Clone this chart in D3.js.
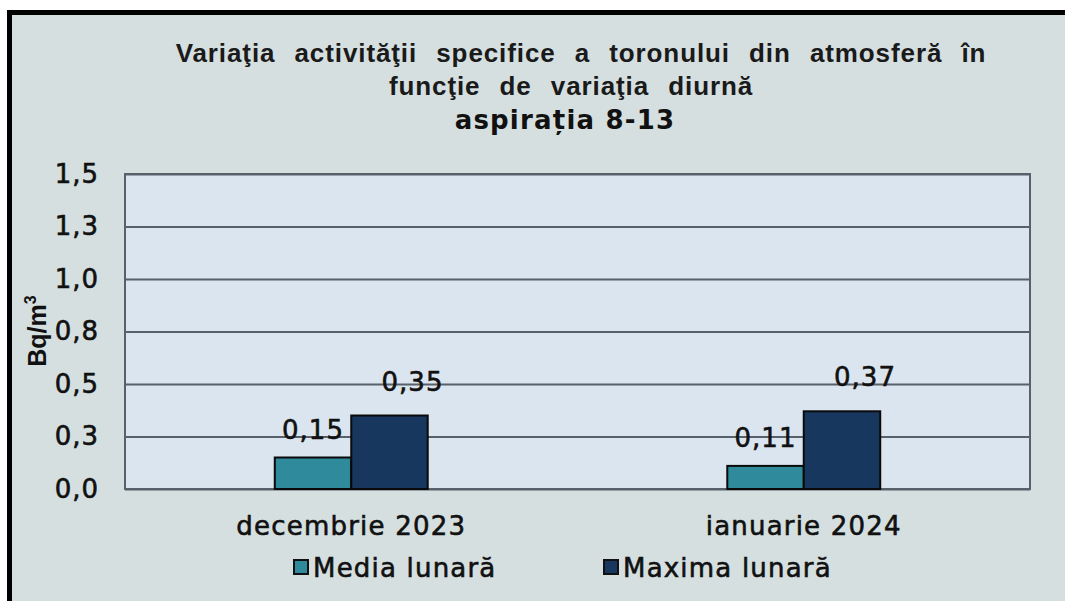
<!DOCTYPE html>
<html>
<head>
<meta charset="utf-8">
<script src="https://cdn.jsdelivr.net/npm/d3@7"></script>
<style>
body { margin:0; background:#fff; }
text { font-family:"DejaVu Sans", sans-serif; fill:#111; }
.fat { stroke:#111; stroke-width:0.6px; }
</style>
</head>
<body>
<div id="chart"></div>
<script>
// data
var categories = ["decembrie 2023", "ianuarie 2024"];
var seriesNames = ["Media lunară", "Maxima lunară"];
var mediaValues = [0.15, 0.11];
var maximaValues = [0.35, 0.37];
var yTicks = [0, 0.25, 0.5, 0.75, 1, 1.25, 1.5];
var titleLines = ["Variaţia activităţii specifice a toronului  din atmosferă în", "funcţie de variaţia diurnă", "aspirația 8-13"];

var W = 1065, H = 601;
var margin = {left:125, top:174, right:35, bottom:112};
var w = W - margin.left - margin.right, h = H - margin.top - margin.bottom;

var ro = d3.formatLocale({decimal:",", thousands:".", grouping:[3], currency:["", ""]});
var fmtTick = ro.format(".1f"), fmtVal = ro.format(".2f");

var svg = d3.select("#chart").append("svg").attr("width", W).attr("height", H);

//---------------------background / frame---------------------
svg.append("rect").attr("x", 7).attr("y", 10).attr("width", W - 7).attr("height", H - 10).attr("fill", "#d5dfe0");
svg.append("rect").attr("x", 7).attr("y", 10).attr("width", W - 7).attr("height", 5).attr("fill", "#000");
svg.append("rect").attr("x", 7).attr("y", 10).attr("width", 5).attr("height", H - 10).attr("fill", "#000");

//---------------------title---------------------
svg.append("text").attr("x", 581).attr("y", 62).attr("text-anchor", "middle")
	.style("font-family", "'Liberation Sans', Arial, sans-serif").style("font-weight", "bold")
	.style("font-size", "26px").style("letter-spacing", "0.9px").style("word-spacing", "11px").style("fill", "#1a1a1a")
	.text(titleLines[0]);
svg.append("text").attr("x", 571).attr("y", 95).attr("text-anchor", "middle")
	.style("font-family", "'Liberation Sans', Arial, sans-serif").style("font-weight", "bold")
	.style("font-size", "26px").style("letter-spacing", "0.9px").style("word-spacing", "11px").style("fill", "#1a1a1a")
	.text(titleLines[1]);
svg.append("text").attr("x", 565).attr("y", 129).attr("text-anchor", "middle")
	.style("font-weight", "bold").style("font-size", "26px").style("letter-spacing", "1.2px")
	.text(titleLines[2]);

var g = svg.append("g").attr("transform", "translate(" + margin.left + "," + margin.top + ")");

var y = d3.scaleLinear().domain([0, 1.5]).range([h, 0]);
var x0 = d3.scaleBand().domain(categories).range([0, w]).paddingInner(0.662).paddingOuter(0.331);
var x1 = d3.scaleBand().domain(seriesNames).range([0, x0.bandwidth()]);
var colors = d3.scaleOrdinal().domain(seriesNames).range(["#2f8a9b", "#17375e"]);

g.append("rect").attr("width", w).attr("height", h).attr("fill", "#dbe5ef");

//---------------------y axis + grid---------------------
var yAxis = g.append("g").call(d3.axisLeft(y).tickValues(yTicks).tickSize(-w).tickPadding(26).tickFormat(fmtTick));
yAxis.select(".domain").remove();
yAxis.selectAll(".tick line").attr("stroke", "#58606a").attr("stroke-width", 2);
yAxis.selectAll(".tick text").attr("class", "fat").style("font-size", "26px").style("letter-spacing", "1px").style("fill", "#111");

g.append("rect").attr("width", w).attr("height", h).attr("fill", "none").attr("stroke", "#58606a").attr("stroke-width", 2);

svg.append("text").attr("transform", "translate(46,331) rotate(-90)").attr("text-anchor", "middle")
	.style("font-family", "'Liberation Sans', Arial, sans-serif").style("font-weight", "bold").style("font-size", "25px")
	.text("Bq/m").append("tspan").attr("dy", "-0.6em").style("font-size", "16px").text("3");

//---------------------bars---------------------
var rows = categories.map(function(c, i) {
	return {cat:c, vals:[{s:seriesNames[0], v:mediaValues[i]}, {s:seriesNames[1], v:maximaValues[i]}]};
});
var lblOffset = {"Media lunară":{dx:0, dy:-19}, "Maxima lunară":{dx:23, dy:-25}};

var grp = g.selectAll(".grp").data(rows).enter().append("g")
	.attr("transform", function(d) { return "translate(" + x0(d.cat) + ",0)"; });
grp.selectAll("rect").data(function(d) { return d.vals; }).enter().append("rect")
	.attr("x", function(d) { return x1(d.s); })
	.attr("y", function(d) { return y(d.v); })
	.attr("width", x1.bandwidth())
	.attr("height", function(d) { return h - y(d.v); })
	.attr("fill", function(d) { return colors(d.s); })
	.attr("stroke", "#0a0a0a").attr("stroke-width", 2);
grp.selectAll(".lbl").data(function(d) { return d.vals; }).enter().append("text")
	.attr("class", "fat")
	.attr("x", function(d) { return x1(d.s) + x1.bandwidth() / 2 + lblOffset[d.s].dx; })
	.attr("y", function(d) { return y(d.v) + lblOffset[d.s].dy; })
	.attr("text-anchor", "middle")
	.style("font-size", "26px").style("letter-spacing", "1px")
	.text(function(d) { return fmtVal(d.v); });

//---------------------x axis labels---------------------
g.selectAll(".xl").data(categories).enter().append("text")
	.attr("class", "fat")
	.attr("x", function(d) { return x0(d) + x0.bandwidth() / 2; })
	.attr("y", h + 46).attr("text-anchor", "middle")
	.style("font-size", "26px").style("letter-spacing", "1.2px")
	.text(function(d) { return d; });

//---------------------legend---------------------
var legX = [294, 604];
var leg = svg.selectAll(".leg").data(seriesNames).enter().append("g")
	.attr("transform", function(d, i) { return "translate(" + legX[i] + ",560)"; });
leg.append("rect").attr("width", 14).attr("height", 14)
	.attr("fill", function(d) { return colors(d); }).attr("stroke", "#111").attr("stroke-width", 2);
leg.append("text").attr("class", "fat").attr("x", 19).attr("y", 17)
	.style("font-size", "26px").style("letter-spacing", "1.2px")
	.text(function(d) { return d; });
</script>
</body>
</html>
